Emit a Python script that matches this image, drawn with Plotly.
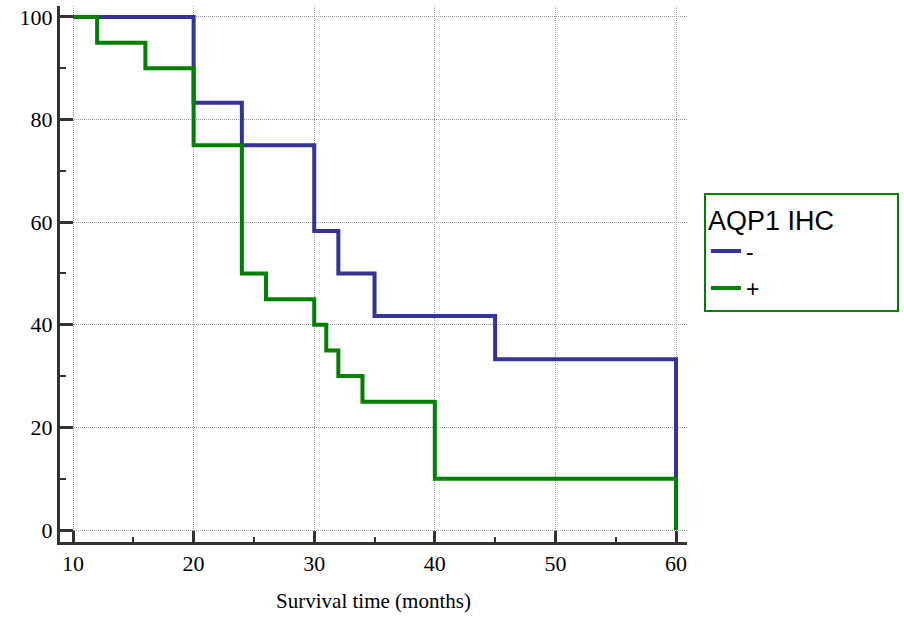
import plotly.graph_objects as go

# Kaplan-Meier step data (months, survival %)
neg_time = [10, 20, 24, 30, 32, 35, 45, 60, 60]
neg_surv = [100, 83.3, 75, 58.3, 50, 41.7, 33.3, 33.3, 0]
pos_time = [10, 12, 16, 20, 24, 26, 30, 31, 32, 34, 40, 60, 60]
pos_surv = [100, 95, 90, 75, 50, 45, 40, 35, 30, 25, 10, 10, 0]

x_ticks = [10, 20, 30, 40, 50, 60]
y_ticks = [0, 20, 40, 60, 80, 100]

BLUE = "#333399"
GREEN = "#008000"
SERIF = "Liberation Serif, Times New Roman, serif"
SANS = "Liberation Sans, Arial, sans-serif"

fig = go.Figure()
fig.add_trace(go.Scatter(x=neg_time, y=neg_surv, mode="lines", name="-",
                         line=dict(color=BLUE, width=4, shape="hv"),
                         legendgroup="a"))
fig.add_trace(go.Scatter(x=pos_time, y=pos_surv, mode="lines", name="+",
                         line=dict(color=GREEN, width=4, shape="hv"),
                         legendgroup="b"))

fig.update_layout(
    width=904, height=619,
    margin=dict(l=60, r=217, t=6, b=77, autoexpand=False),
    plot_bgcolor="white", paper_bgcolor="white",
    font=dict(family=SERIF, size=21, color="black"),
    showlegend=True,
    legend=dict(
        x=1.027, y=0.652, xanchor="left", yanchor="top",
        bordercolor=GREEN, borderwidth=2, bgcolor="white",
        font=dict(family=SANS, size=23, color="black"),
        title=dict(text="AQP1 IHC" + "\u00a0" * 8,
                   font=dict(family=SANS, size=27, color="black")),
        tracegroupgap=4,
    ),
    xaxis=dict(
        range=[8.92, 60.91], tickvals=x_ticks, ticktext=[str(v) for v in x_ticks],
        automargin=False, ticklabeloverflow="allow",
        showline=True, linecolor="#333333", linewidth=3,
        ticks="inside", ticklen=11, tickwidth=3, tickcolor="#333333",
        minor=dict(dtick=5, tick0=15, ticks="inside", ticklen=5, tickwidth=2,
                   tickcolor="#333333", showgrid=False),
        showgrid=True, gridcolor="#999999", griddash="1px,1px", gridwidth=1,
        zeroline=False,
        tickfont=dict(family=SERIF, size=22),
        title=dict(text="Survival time (months)", font=dict(family=SERIF, size=21),
                   standoff=18),
    ),
    yaxis=dict(
        range=[-2.34, 102.14], tickvals=y_ticks, ticktext=[str(v) for v in y_ticks],
        automargin=False, ticklabeloverflow="allow",
        showline=True, linecolor="#333333", linewidth=3,
        ticks="inside", ticklen=13, tickwidth=3, tickcolor="#333333",
        minor=dict(dtick=20, tick0=10, ticks="inside", ticklen=6, tickwidth=2,
                   tickcolor="#333333", showgrid=False),
        showgrid=True, gridcolor="#999999", griddash="1px,1px", gridwidth=1,
        zeroline=False,
        tickfont=dict(family=SERIF, size=22),
    ),
)

fig.write_html("out.html", config={"displayModeBar": False},
               post_script="document.body.style.margin='0';document.body.style.overflow='hidden';")
